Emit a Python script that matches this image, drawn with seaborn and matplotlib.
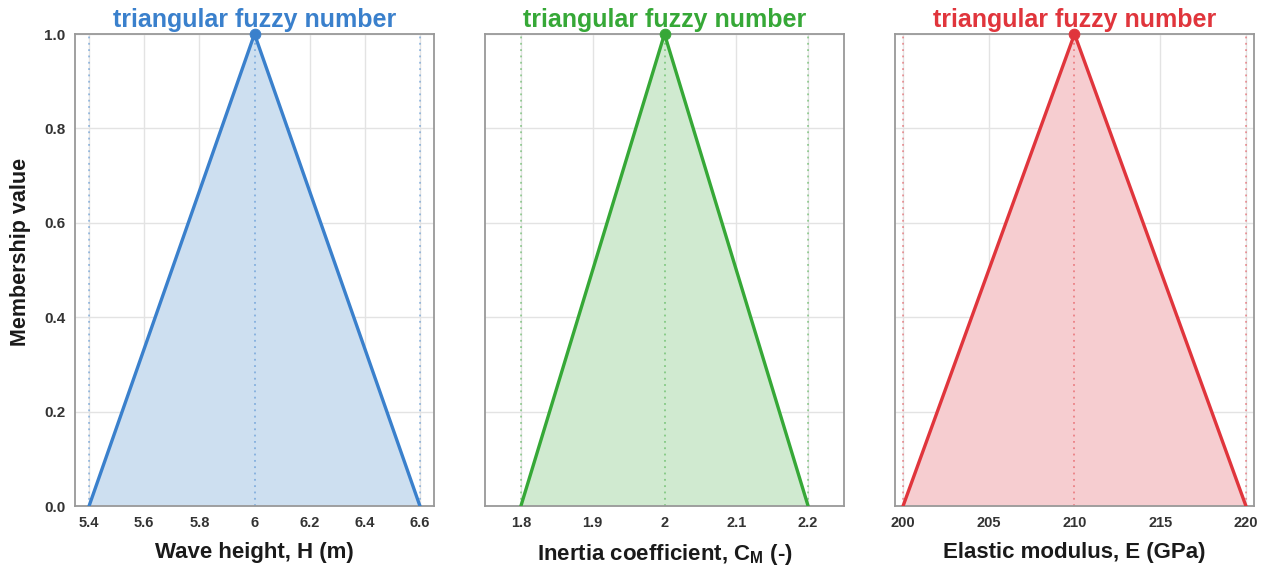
import matplotlib
matplotlib.use("Agg")
import matplotlib.pyplot as plt
import seaborn as sns
import pandas as pd

# Data
titles = ["triangular fuzzy number"] * 3
xlabels = ["Wave height, H (m)", r"Inertia coefficient, C$_{\mathbf{M}}$ (-)", "Elastic modulus, E (GPa)"]
tfn_wave = [5.4, 6.0, 6.6]
tfn_inertia = [1.8, 2.0, 2.2]
tfn_modulus = [200, 210, 220]
membership = [0.0, 1.0, 0.0]
xticks_wave = [5.4, 5.6, 5.8, 6.0, 6.2, 6.4, 6.6]
xticklabels_wave = ["5.4", "5.6", "5.8", "6", "6.2", "6.4", "6.6"]
xticks_inertia = [1.8, 1.9, 2.0, 2.1, 2.2]
xticklabels_inertia = ["1.8", "1.9", "2", "2.1", "2.2"]
xticks_modulus = [200, 205, 210, 215, 220]
xticklabels_modulus = ["200", "205", "210", "215", "220"]
yticks = [0.0, 0.2, 0.4, 0.6, 0.8, 1.0]
yticklabels = ["0.0", "0.2", "0.4", "0.6", "0.8", "1.0"]

colors = ["#3a80cc", "#36a837", "#e0353c"]
fills = ["#cddff0", "#d0ead0", "#f6cdd0"]
xlims = [(5.349, 6.651), (1.75, 2.25), (199.53, 220.47)]

sns.set_theme(style="white")
plt.rcParams["font.family"] = ["Liberation Sans", "DejaVu Sans"]
plt.rcParams["mathtext.fontset"] = "custom"
plt.rcParams["mathtext.rm"] = "Liberation Sans:bold"
plt.rcParams["mathtext.bf"] = "Liberation Sans:bold"

fig = plt.figure(figsize=(12.68, 5.68), dpi=100)
lefts = [75 / 1268, 485 / 1268, 895 / 1268]
width = 359 / 1268
bottom = 1 - 506 / 568
height = (506 - 34) / 568

datasets = [
    (tfn_wave, xticks_wave, xticklabels_wave),
    (tfn_inertia, xticks_inertia, xticklabels_inertia),
    (tfn_modulus, xticks_modulus, xticklabels_modulus),
]

for i, (vals, xt, xtl) in enumerate(datasets):
    ax = fig.add_axes([lefts[i], bottom, width, height])
    df = pd.DataFrame({"x": vals, "mu": membership})
    ax.fill_between(df["x"], df["mu"], color=fills[i], alpha=1.0, zorder=1, linewidth=0)
    for v in vals:
        ax.axvline(v, color=colors[i], linestyle=(0, (1, 2.5)), linewidth=1.3, alpha=0.5, zorder=1.5)
    sns.lineplot(data=df, x="x", y="mu", ax=ax, color=colors[i], linewidth=2.4,
                 sort=False, estimator=None, zorder=3)
    peak = df[df["mu"] == df["mu"].max()]
    sns.scatterplot(data=peak, x="x", y="mu", ax=ax, color=colors[i], s=60,
                    edgecolor=colors[i], zorder=5, clip_on=False)
    ax.set_xlim(*xlims[i])
    ax.set_ylim(0, 1)
    ax.set_xticks(xt)
    ax.set_xticklabels(xtl, fontsize=10.5, fontweight="bold", color="#333333")
    ax.set_yticks(yticks)
    if i == 0:
        ax.set_yticklabels(yticklabels, fontsize=11, fontweight="bold", color="#333333")
        ax.set_ylabel("Membership value", fontsize=15.5, fontweight="bold", color="#1a1a1a")
        ax.yaxis.set_label_coords(-0.122, 0.538)
    else:
        ax.set_yticklabels([])
        ax.set_ylabel("")
    ax.tick_params(axis="both", length=0, pad=7)
    ax.set_xlabel(xlabels[i], fontsize=16, fontweight="bold", color="#1a1a1a", labelpad=9)
    ax.set_title(titles[i], fontsize=18, fontweight="bold", color=colors[i], pad=5)
    ax.grid(True, color="#e3e3e3", linewidth=1.0, zorder=0)
    ax.set_axisbelow(True)
    for s in ax.spines.values():
        s.set_color("#999999")
        s.set_linewidth(1.3)

fig.savefig("out.png", dpi=100)
